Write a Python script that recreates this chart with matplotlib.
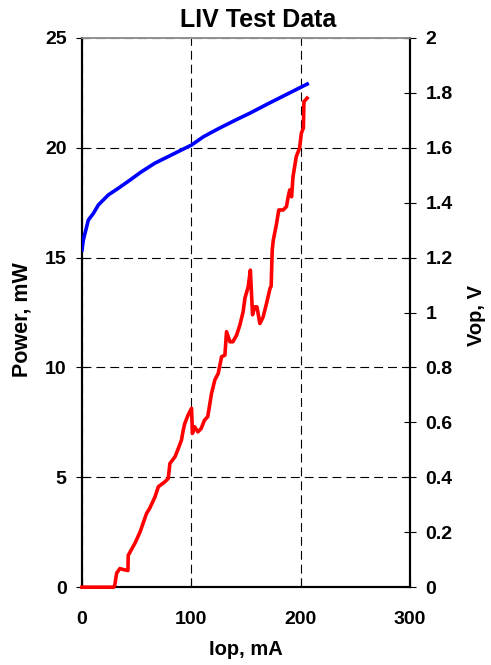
import matplotlib.pyplot as plt
import numpy as np

plt.rcParams['font.family'] = ['Liberation Sans', 'DejaVu Sans']
plt.rcParams['font.weight'] = 'bold'

# current (mA) and optical power (mW)
iop_power = [0, 10, 20, 29, 30, 31.7, 34.7, 38, 42, 42.3, 48.4, 53, 59, 62, 66.7, 69.8,
             75.9, 78.9, 80.4, 85, 88, 91, 92.6, 94, 97, 100.2, 101, 103, 106, 109,
             112, 115, 118.5, 121.5, 124.6, 127.7, 130.7, 132.2, 135.3, 138, 141.4,
             144.4, 147.4, 149, 152, 154, 156, 158, 160, 162.7, 165.7, 168.8, 172,
             173, 174, 175, 178, 180, 184, 187, 188.6, 190, 191.7, 193, 196, 199,
             200.6, 202.5, 203, 205.9]
power = [0, 0, 0, 0, 0.1, 0.64, 0.85, 0.8, 0.76, 1.45, 2.0, 2.5, 3.35, 3.6, 4.1, 4.57,
         4.8, 4.95, 5.63, 5.93, 6.3, 6.7, 7.15, 7.45, 7.83, 8.14, 7.0, 7.3, 7.07, 7.22,
         7.6, 7.76, 8.82, 9.43, 9.73, 10.49, 10.56, 11.63, 11.17, 11.17, 11.47,
         11.93, 12.54, 13.15, 13.67, 14.43, 12.4, 12.76, 12.76, 12.0, 12.3, 12.92, 13.6,
         13.7, 15.35, 15.8, 16.56, 17.17, 17.17, 17.32, 17.77, 18.08, 17.77, 18.68,
         19.6, 19.98, 20.66, 20.9, 22.1, 22.26]

# current (mA) and forward voltage (V)
iop_vop = [0, 1.2, 4.3, 5.8, 10.4, 15, 24, 33, 42, 54.5, 66.7, 78.9, 91, 100.2, 111,
           125, 140, 153.6, 170, 185, 200, 206]
vop = [1.228, 1.264, 1.313, 1.337, 1.361, 1.392, 1.428, 1.452, 1.477, 1.513, 1.544,
       1.568, 1.592, 1.61, 1.64, 1.67, 1.70, 1.726, 1.76, 1.79, 1.82, 1.832]

fig = plt.figure(figsize=(4.91, 6.65), dpi=100)
ax = fig.add_axes([0.167, 0.117, 0.668, 0.826])
ax2 = ax.twinx()

# red curve drawn on the right-hand axes so it sits above every spine
ax2.plot(iop_power, np.array(power) * 2 / 25, color='red', lw=2.6,
         solid_joinstyle='round', clip_on=False, zorder=5)
ax2.plot(iop_vop, vop, color='blue', lw=2.6, zorder=4)

ax.set_xlim(0, 300)
ax.set_ylim(0, 25)
ax2.set_ylim(0, 2)
ax.set_xticks([0, 100, 200, 300])
ax.set_yticks(np.arange(0, 26, 5))
ax2.set_yticks(np.arange(0, 2.01, 0.2))
ax2.set_yticklabels(['0', '0.2', '0.4', '0.6', '0.8', '1', '1.2', '1.4', '1.6', '1.8', '2'])

ax.grid(True, color='black', ls=(0, (8, 4.5)), lw=0.8)
ax.tick_params(axis='x', direction='in', length=6.5, labelsize=14, pad=17)
ax.tick_params(axis='y', direction='inout', length=8, labelsize=14, pad=7)
ax2.tick_params(axis='y', direction='inout', length=8, labelsize=14, pad=7)

for a in (ax, ax2):
    for s in ('left', 'right', 'bottom'):
        a.spines[s].set_linewidth(1.5)
    a.spines['top'].set_color('#909090')
    a.spines['top'].set_linewidth(1.2)

ax.set_xlabel('Iop, mA', fontsize=14.5, fontweight='bold')
ax.xaxis.set_label_coords(0.5, -0.0965)
ax.set_ylabel('Power, mW', fontsize=15.5, fontweight='bold')
ax.yaxis.set_label_coords(-0.152, 0.488)
ax2.set_ylabel('Vop, V', fontsize=14.5, fontweight='bold')
ax2.yaxis.set_label_coords(1.174, 0.494)
fig.text(0.525, 0.959, 'LIV Test Data', fontsize=18, fontweight='bold',
         ha='center', va='baseline')

fig.savefig('out.png', dpi=100)
